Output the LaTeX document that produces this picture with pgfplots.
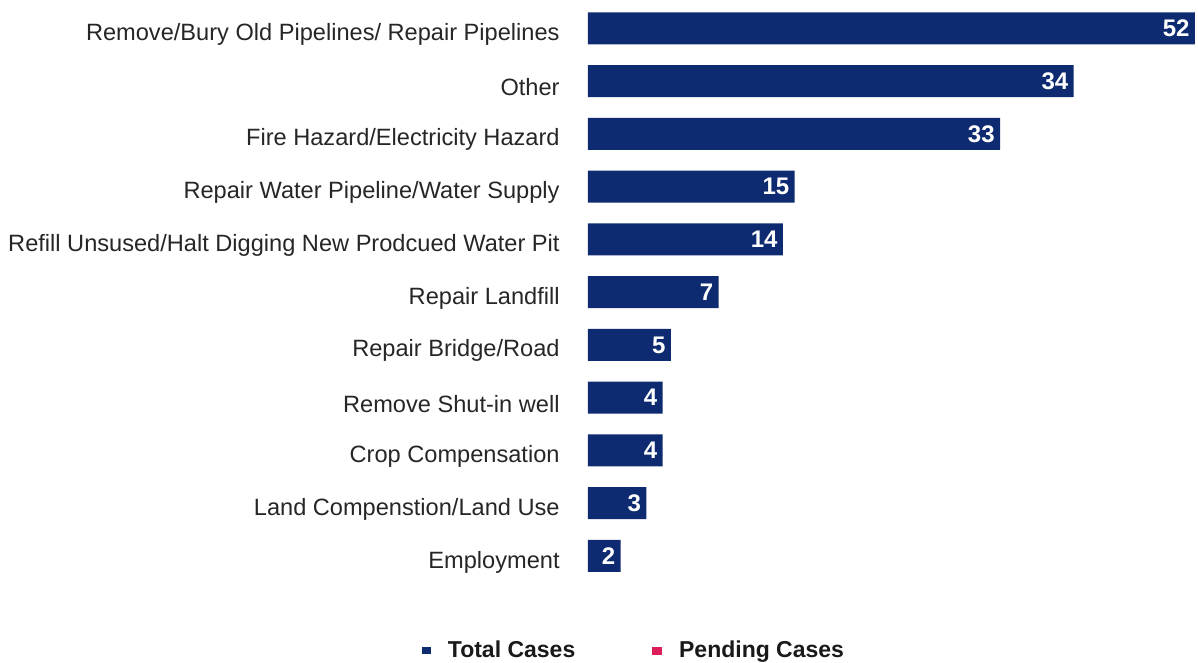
\documentclass[border=0pt]{standalone}
\usepackage{fontspec}
\setmainfont{Liberation Sans}
\usepackage{pgfplots}
\usepackage{pgfplotstable}
\pgfplotsset{compat=1.18}
\definecolor{navy}{RGB}{14,42,112}
\definecolor{pend}{RGB}{222,30,90}
\definecolor{lab}{RGB}{38,38,38}
% len = bar length (scaled so that 52 -> 52), val = printed value
\pgfplotstableread{
idx len val
0 52.0 52
1 41.6 34
2 35.3 33
3 17.7 15
4 16.7 14
5 11.2 7
6 7.1 5
7 6.4 4
8 6.4 4
9 5.0 3
10 2.8 2
}\data
\begin{document}
\begin{tikzpicture}
\path[use as bounding box] (-294pt,-40.3pt) rectangle (305pt,291.16pt);
\begin{axis}[
  scale only axis,
  width=303.5pt, height=290.2pt,
  xbar, bar width=16pt,
  xmin=0, xmax=52,
  ymin=-0.5, ymax=10.5,
  y dir=reverse,
  axis line style={draw=none},
  tick style={draw=none},
  major tick length=0pt,
  xtick=\empty,
  ytick={0,...,10},
  yticklabels={Remove/Bury Old Pipelines/ Repair Pipelines, Other, Fire Hazard/Electricity Hazard, Repair Water Pipeline/Water Supply, Refill Unsused/Halt Digging New Prodcued Water Pit, Repair Landfill, Repair Bridge/Road, Remove Shut-in well, Crop Compensation, Land Compenstion/Land Use, Employment},
  yticklabel style={font=\fontsize{11.8}{14}\selectfont, text=lab, anchor=east, inner sep=0pt, xshift=-14pt, yshift=-3pt},
  nodes near coords={\pgfplotspointmeta},
  point meta=explicit symbolic,
  every node near coord/.append style={anchor=east, text=white, font=\bfseries\fontsize{12}{14}\selectfont, inner sep=2.5pt},
  legend columns=2,
  legend style={draw=none, fill=none, at={(0.0774,-0.1176)}, anchor=center,
    font=\bfseries\fontsize{11.5}{13}\selectfont, text=black!90,
    /tikz/every even column/.append style={column sep=36.5pt}},
]
\addplot[fill=navy, draw=none,
  legend image code/.code={\fill[navy] (0pt,-1.8pt) rectangle (4.5pt,1.8pt);}]
  table[x=len, y=idx, meta=val] {\data};
\addlegendentry{\hspace{6.5pt}Total Cases}
\addlegendimage{legend image code/.code={\fill[pend] (0pt,-1.8pt) rectangle (4.5pt,1.8pt);}}
\addlegendentry{\hspace{6.5pt}Pending Cases}
\end{axis}
\end{tikzpicture}
\end{document}
